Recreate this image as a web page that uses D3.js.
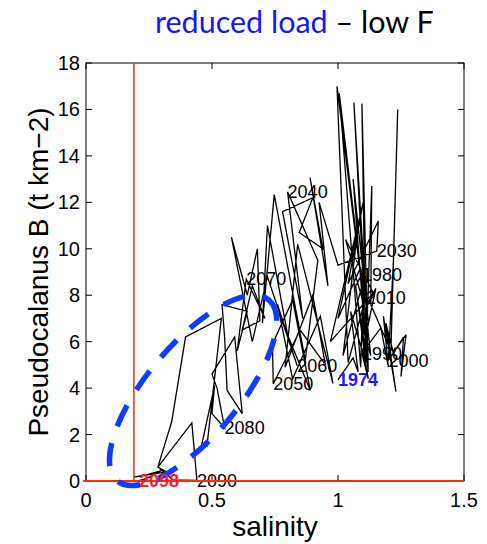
<!DOCTYPE html>
<html>
<head>
<meta charset="utf-8">
<script src="https://cdn.jsdelivr.net/npm/d3@7"></script>
<style>
  body { margin: 0; background: #fff; }
  svg { display: block; }
</style>
</head>
<body>
<div id="chart"></div>
<script>
// yearly trajectory 1974-2098 (salinity vs Pseudocalanus biomass)
const firstYear = 1974;
const salinity = [
  1.00, 1.06, 1.08, 1.05, 1.11, 1.07, 1.095, 1.10, 1.08, 1.12,
  1.09, 1.13, 1.11, 1.15, 1.10, 1.12, 1.095, 1.17, 1.20, 1.18,
  1.23, 1.19, 1.22, 1.26, 1.25, 1.27, 1.20, 1.22, 1.237, 1.21,
  1.13, 1.134, 1.11, 1.095, 1.12, 1.063, 1.11, 1.04, 0.996, 1.12,
  1.005, 1.09, 1.10, 1.02, 1.08, 1.00, 1.09, 1.11, 1.06, 1.12,
  1.03, 1.14, 0.97, 1.10, 1.04, 1.16, 1.154, 1.00, 0.925, 0.96,
  0.889, 0.94, 0.846, 0.90, 0.78, 0.86, 0.80, 0.92, 0.87, 0.747,
  0.70, 0.72, 0.80, 0.89, 0.82, 0.74, 0.743, 0.85, 0.95, 0.90,
  0.79, 0.84, 0.98, 0.93, 0.82, 0.76, 0.838, 0.72, 0.66, 0.577,
  0.64, 0.68, 0.69, 0.62, 0.66, 0.71, 0.636, 0.60, 0.64, 0.54,
  0.55, 0.56, 0.62, 0.59, 0.50, 0.52, 0.55, 0.50, 0.51, 0.46,
  0.48, 0.537, 0.395, 0.34, 0.285, 0.42, 0.44, 0.345, 0.285, 0.32,
  0.19, 0.25, 0.30, 0.24, 0.21
];
const biomass = [
  4.35, 5.3, 4.7, 7.3, 5.1, 8.4, 8.9, 6.1, 7.7, 4.8,
  6.9, 5.4, 7.4, 8.3, 5.7, 4.4, 5.5, 6.6, 4.9, 7.1,
  3.85, 6.8, 5.5, 6.2, 4.5, 6.3, 5.2, 9.5, 16.0, 5.6,
  7.6, 12.7, 5.2, 16.25, 4.7, 16.3, 7.9, 5.1, 17.0, 6.2,
  16.7, 4.9, 8.6, 5.4, 11.0, 7.0, 9.2, 5.8, 13.0, 6.9,
  10.4, 8.1, 6.0, 12.0, 8.5, 11.2, 9.9, 9.3, 12.0, 8.4,
  13.06, 10.0, 10.7, 12.2, 11.6, 7.0, 12.45, 9.5, 5.2, 12.33,
  6.8, 11.0, 6.3, 3.9, 7.8, 5.9, 4.18, 6.5, 5.0, 8.0,
  4.9, 10.2, 4.2, 7.1, 4.4, 7.6, 4.96, 8.8, 6.0, 10.5,
  8.0, 10.0, 6.9, 6.5, 8.4, 7.0, 8.7, 5.6, 7.3, 7.6,
  6.2, 3.9, 2.9, 6.2, 4.6, 4.0, 2.28, 2.9, 4.1, 1.6,
  1.5, 7.0, 6.2, 2.55, 0.6, 2.5, 0.03, 0.05, 0.6, 0.39,
  0.17, 0.3, 0.45, 0.1, 0.02
];
const labelYears = [1974, 1980, 1990, 2000, 2010, 2030, 2040, 2050, 2060, 2070, 2080, 2090, 2098];
const xTicks = [0, 0.5, 1, 1.5];
const yTicks = [0, 2, 4, 6, 8, 10, 12, 14, 16, 18];
const salinityThreshold = 0.19;

const width = 487, height = 544;
const plotLeft = 86, plotRight = 464, plotTop = 63, plotBottom = 481;

const points = salinity.map((s, i) => ({ year: firstYear + i, x: s, y: biomass[i] }));

const x = d3.scaleLinear().domain([0, 1.5]).range([plotLeft, plotRight]);
const y = d3.scaleLinear().domain([0, 18]).range([plotBottom, plotTop]);

const svg = d3.select("#chart").append("svg")
    .attr("width", width)
    .attr("height", height)
    .style("font-family", "'Liberation Sans', Arial, sans-serif");

// title
const title = svg.append("text")
    .attr("x", 155)
    .attr("y", 33)
    .style("font-family", "Lato, 'Open Sans', sans-serif")
    .style("font-size", "30.5px");
title.append("tspan").attr("fill", "#1414ff").text("reduced load");
title.append("tspan").attr("fill", "#000").text(" \u2013 low F");

// trajectory
const line = d3.line().x(d => x(d.x)).y(d => y(d.y));
svg.append("path")
    .datum(points)
    .attr("d", line)
    .attr("fill", "none")
    .attr("stroke", "#000")
    .attr("stroke-width", 1.3)
    .attr("stroke-linejoin", "miter");

// year labels (first and last year highlighted, drawn later on top)
const isEnd = d => d.year === 1974 || d.year === 2098;
const labelled = points.filter(d => labelYears.includes(d.year));
svg.append("g").selectAll("text")
    .data(labelled.filter(d => !isEnd(d)))
    .enter().append("text")
    .attr("x", d => x(d.x))
    .attr("y", d => y(d.y))
    .attr("dy", "0.35em")
    .style("font-size", "18px")
    .attr("fill", "#000")
    .text(d => d.year);

// axes box with inward ticks
const axisG = svg.append("g");
axisG.append("rect")
    .attr("x", plotLeft).attr("y", plotTop)
    .attr("width", plotRight - plotLeft).attr("height", plotBottom - plotTop)
    .attr("fill", "none").attr("stroke", "#000").attr("stroke-width", 1);

const tickLen = 6;
xTicks.forEach(t => {
    axisG.append("line").attr("x1", x(t)).attr("x2", x(t)).attr("y1", plotBottom).attr("y2", plotBottom - tickLen).attr("stroke", "#000");
    axisG.append("line").attr("x1", x(t)).attr("x2", x(t)).attr("y1", plotTop).attr("y2", plotTop + tickLen).attr("stroke", "#000");
    axisG.append("text")
        .attr("x", x(t)).attr("y", plotBottom + 26)
        .attr("text-anchor", "middle")
        .style("font-size", "20px")
        .text(t);
});
yTicks.forEach(t => {
    axisG.append("line").attr("x1", plotLeft).attr("x2", plotLeft + tickLen).attr("y1", y(t)).attr("y2", y(t)).attr("stroke", "#000");
    axisG.append("line").attr("x1", plotRight).attr("x2", plotRight - tickLen).attr("y1", y(t)).attr("y2", y(t)).attr("stroke", "#000");
    axisG.append("text")
        .attr("x", plotLeft - 6).attr("y", y(t))
        .attr("dy", "0.35em")
        .attr("text-anchor", "end")
        .style("font-size", "20px")
        .text(t);
});

// red reference lines
svg.append("line")
    .attr("x1", x(salinityThreshold)).attr("x2", x(salinityThreshold))
    .attr("y1", y(18)).attr("y2", y(0))
    .attr("stroke", "#ff2a00").attr("stroke-width", 1.5);
svg.append("line")
    .attr("x1", x(0) - 3).attr("x2", x(1.5))
    .attr("y1", y(0)).attr("y2", y(0))
    .attr("stroke", "#ff2a00").attr("stroke-width", 2);

// axis labels
svg.append("text")
    .attr("x", (plotLeft + plotRight) / 2).attr("y", 536)
    .attr("text-anchor", "middle")
    .style("font-size", "28px")
    .text("salinity");
svg.append("text")
    .attr("transform", `translate(48,${(plotTop + plotBottom) / 2}) rotate(-90)`)
    .attr("text-anchor", "middle")
    .style("font-size", "28px")
    .text("Pseudocalanus B (t km\u22122)");

// dashed ellipse marking the reduced-load years
svg.append("ellipse")
    .attr("transform", `translate(${x(0.425)},${y(3.9)}) rotate(-50)`)
    .attr("rx", 118).attr("ry", 46)
    .attr("fill", "none")
    .attr("stroke", "#0d3bff")
    .attr("stroke-width", 5.5)
    .attr("stroke-dasharray", "23 18");

svg.append("g").selectAll("text")
    .data(labelled.filter(isEnd))
    .enter().append("text")
    .attr("x", d => x(d.x))
    .attr("y", d => y(d.y))
    .attr("dy", "0.35em")
    .style("font-size", "18px")
    .style("font-weight", "bold")
    .attr("fill", d => d.year === 1974 ? "#1a1aff" : "#ff1a1a")
    .text(d => d.year);
</script>
</body>
</html>
